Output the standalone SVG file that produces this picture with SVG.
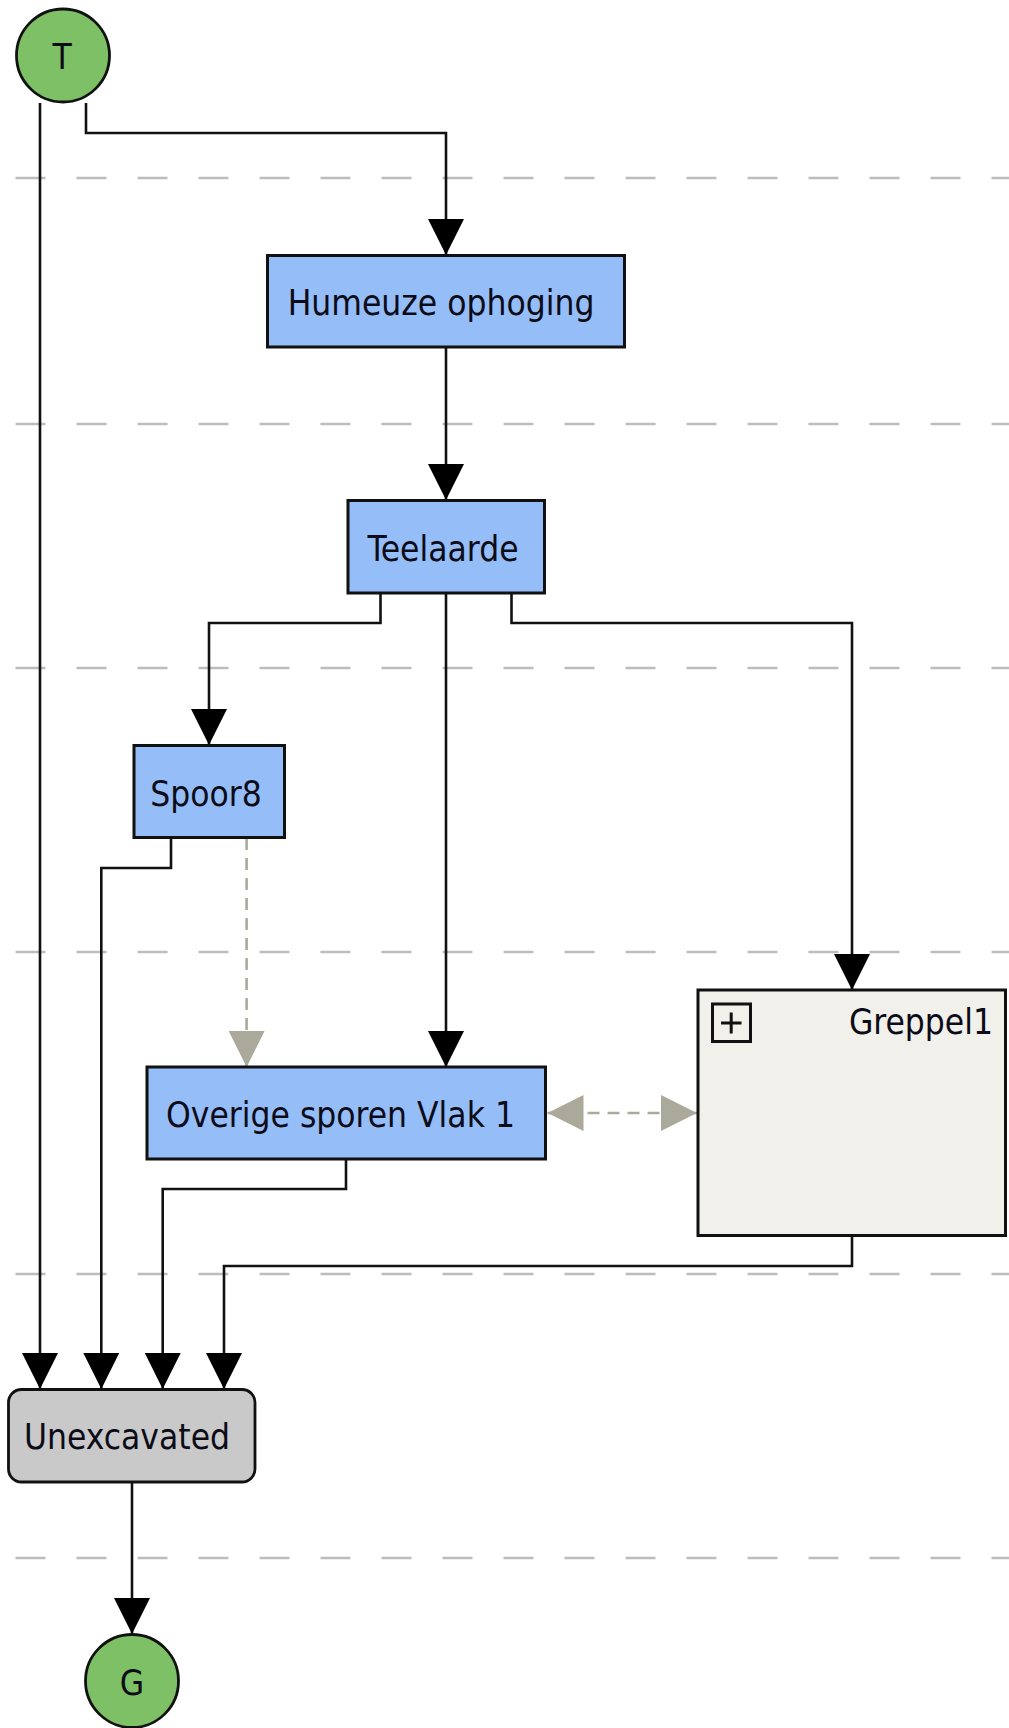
<svg xmlns="http://www.w3.org/2000/svg" width="1009" height="1728" viewBox="0 0 1009 1728">
<style>
.lane{stroke:#bdbdbd;stroke-width:2.5;stroke-dasharray:30,31;fill:none}
.box{fill:#95bdf7;stroke:#111;stroke-width:3}
.term{fill:#7dc066;stroke:#111;stroke-width:2.8}
.lbl{font-family:'DejaVu Sans Condensed','DejaVu Sans',sans-serif;font-stretch:condensed;font-size:35px;fill:#0c0c18;text-anchor:middle}
.edge{stroke:#111;stroke-width:2.6;fill:none}
.dash{stroke:#aaa99a;stroke-width:2.6;fill:none;stroke-dasharray:12,8}
</style>
<defs>
<marker id="ah" viewBox="0 0 36 36" refX="36" refY="18" markerWidth="36" markerHeight="36" markerUnits="userSpaceOnUse" orient="auto">
<path d="M0,0 L36,18 L0,36 Z" fill="#000"/>
</marker>
<marker id="ahg" viewBox="0 0 36 36" refX="36" refY="18" markerWidth="36" markerHeight="36" markerUnits="userSpaceOnUse" orient="auto-start-reverse">
<path d="M0,0 L36,18 L0,36 Z" fill="#aaa99a"/>
</marker>
</defs>
<g id="lanes">
<line class="lane" x1="15.5" y1="178" x2="1009" y2="178"/>
<line class="lane" x1="15.5" y1="424" x2="1009" y2="424"/>
<line class="lane" x1="15.5" y1="668" x2="1009" y2="668"/>
<line class="lane" x1="15.5" y1="952" x2="1009" y2="952"/>
<line class="lane" x1="15.5" y1="1274" x2="1009" y2="1274"/>
<line class="lane" x1="15.5" y1="1558" x2="1009" y2="1558"/>
</g>
<g id="connectors">
<path class="edge" d="M40,103 V1389" marker-end="url(#ah)"/>
<path class="edge" d="M86,103 V133 H446 V255" marker-end="url(#ah)"/>
<path class="edge" d="M446,347 V500" marker-end="url(#ah)"/>
<path class="edge" d="M380.5,593 V623 H209 V745" marker-end="url(#ah)"/>
<path class="edge" d="M446,593 V1067" marker-end="url(#ah)"/>
<path class="edge" d="M511.5,593 V623 H852 V990" marker-end="url(#ah)"/>
<path class="edge" d="M171,838 V868 H101.3 V1389" marker-end="url(#ah)"/>
<path class="edge" d="M346,1159 V1189 H162.7 V1389" marker-end="url(#ah)"/>
<path class="edge" d="M852,1236 V1266 H224 V1389" marker-end="url(#ah)"/>
<path class="edge" d="M132,1482 V1634" marker-end="url(#ah)"/>
<path class="dash" d="M246.6,838 V1067" marker-end="url(#ahg)"/>
<path class="dash" d="M547.5,1113 H697" marker-start="url(#ahg)" marker-end="url(#ahg)"/>
</g>
<g id="node-T">
<circle class="term" cx="63" cy="55.5" r="46.5"/>
<text class="lbl" x="62" y="68.5">T</text>
</g>
<g id="node-humeuze">
<rect class="box" x="267.5" y="255.5" width="357" height="91.5"/>
<text class="lbl" x="441" y="315">Humeuze ophoging</text>
</g>
<g id="node-teelaarde">
<rect class="box" x="348" y="500.5" width="196.5" height="92.5"/>
<text class="lbl" x="443" y="561">Teelaarde</text>
</g>
<g id="node-spoor8">
<rect class="box" x="134" y="745.5" width="150.5" height="92"/>
<text class="lbl" x="206" y="806">Spoor8</text>
</g>
<g id="node-overige">
<rect class="box" x="147" y="1067" width="398.5" height="92"/>
<text class="lbl" x="340.5" y="1127">Overige sporen Vlak 1</text>
</g>
<g id="node-greppel1">
<rect x="698" y="990" width="307.5" height="245.5" fill="#f1f0eb" stroke="#111" stroke-width="3"/>
<rect x="712.5" y="1004" width="38" height="37.5" fill="none" stroke="#111" stroke-width="3"/>
<path d="M721,1023 H741.5 M731.2,1012.5 V1033.5" stroke="#111" stroke-width="3"/>
<text class="lbl" x="993" y="1034" style="text-anchor:end">Greppel1</text>
</g>
<g id="node-unexcavated">
<rect x="8.5" y="1389.5" width="246.5" height="92.5" rx="13" ry="13" fill="#c9c9c9" stroke="#111" stroke-width="2.8"/>
<text class="lbl" x="127" y="1449">Unexcavated</text>
</g>
<g id="node-G">
<circle class="term" cx="132" cy="1681" r="46.5"/>
<text class="lbl" x="132" y="1694.5">G</text>
</g>
</svg>
